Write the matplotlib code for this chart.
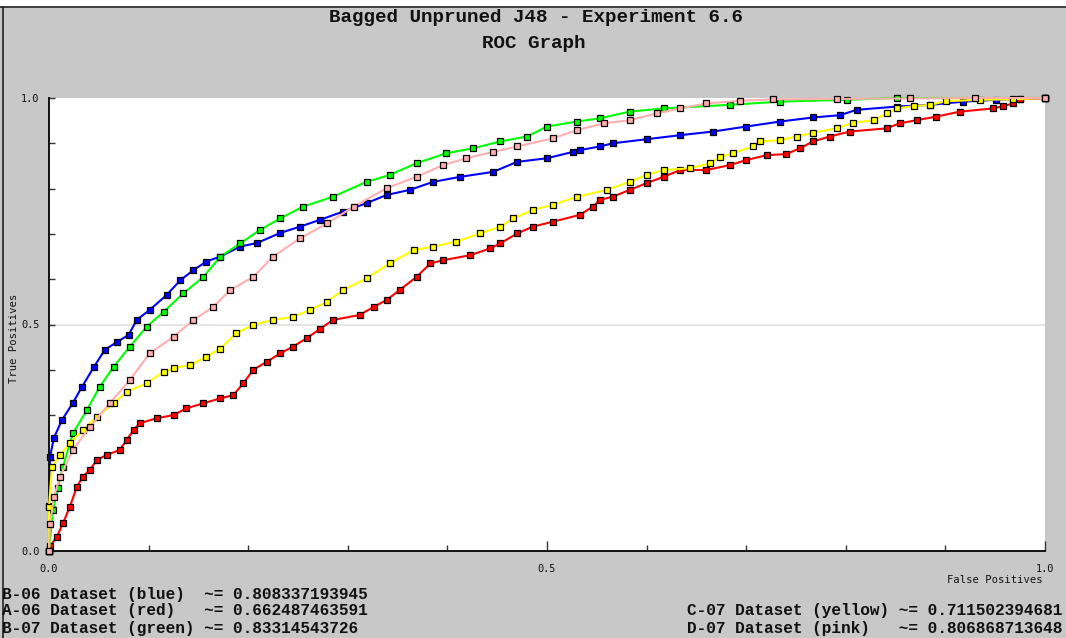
import numpy as np
import matplotlib
matplotlib.use("Agg")
import matplotlib.pyplot as plt
from matplotlib.lines import Line2D

# ---------------- data ----------------
title_lines = ["Bagged Unpruned J48 - Experiment 6.6", "ROC Graph"]

blue_fpr = [0.0, 0.0, 0.001, 0.005, 0.013, 0.024, 0.033, 0.045, 0.056, 0.068, 0.080, 0.088,
            0.101, 0.118, 0.132, 0.145, 0.158, 0.172, 0.192, 0.209, 0.232, 0.252, 0.272,
            0.295, 0.319, 0.339, 0.362, 0.386, 0.413, 0.446, 0.470, 0.500, 0.526, 0.533,
            0.553, 0.566, 0.600, 0.634, 0.667, 0.700, 0.734, 0.767, 0.794, 0.811, 0.851,
            0.885, 0.918, 0.951, 0.975, 1.0]
blue_tpr = [0.0, 0.10, 0.208, 0.25, 0.289, 0.327, 0.362, 0.406, 0.444, 0.461, 0.477, 0.510,
            0.532, 0.565, 0.598, 0.620, 0.639, 0.650, 0.672, 0.680, 0.702, 0.716, 0.731,
            0.749, 0.768, 0.786, 0.797, 0.815, 0.826, 0.837, 0.859, 0.867, 0.881, 0.885,
            0.893, 0.900, 0.909, 0.918, 0.926, 0.937, 0.948, 0.957, 0.962, 0.974, 0.981,
            0.985, 0.992, 0.996, 0.998, 1.0]

red_fpr = [0.0, 0.001, 0.008, 0.014, 0.021, 0.028, 0.034, 0.041, 0.048, 0.058, 0.071, 0.078,
           0.085, 0.091, 0.108, 0.125, 0.138, 0.155, 0.172, 0.185, 0.195, 0.205, 0.219,
           0.232, 0.245, 0.259, 0.272, 0.285, 0.312, 0.326, 0.339, 0.352, 0.369, 0.383,
           0.396, 0.423, 0.443, 0.453, 0.470, 0.486, 0.506, 0.533, 0.546, 0.553, 0.566,
           0.583, 0.600, 0.617, 0.634, 0.660, 0.684, 0.700, 0.721, 0.740, 0.754, 0.767,
           0.784, 0.804, 0.841, 0.854, 0.871, 0.891, 0.915, 0.948, 0.958, 0.968, 0.975, 1.0]
red_tpr = [0.0, 0.010, 0.032, 0.061, 0.098, 0.142, 0.164, 0.179, 0.201, 0.212, 0.223, 0.245,
           0.267, 0.282, 0.293, 0.300, 0.315, 0.326, 0.337, 0.344, 0.370, 0.400, 0.418,
           0.436, 0.451, 0.470, 0.490, 0.510, 0.521, 0.539, 0.554, 0.576, 0.605, 0.635,
           0.642, 0.653, 0.668, 0.679, 0.701, 0.716, 0.727, 0.742, 0.760, 0.775, 0.782,
           0.797, 0.812, 0.826, 0.841, 0.841, 0.852, 0.863, 0.874, 0.876, 0.889, 0.904,
           0.915, 0.926, 0.933, 0.944, 0.951, 0.959, 0.970, 0.977, 0.982, 0.988, 0.997, 1.0]

green_fpr = [0.0, 0.004, 0.009, 0.014, 0.024, 0.038, 0.051, 0.065, 0.081, 0.098, 0.115,
             0.135, 0.155, 0.172, 0.192, 0.212, 0.232, 0.255, 0.285, 0.319, 0.342, 0.369,
             0.399, 0.426, 0.453, 0.480, 0.500, 0.530, 0.553, 0.583, 0.617, 0.684, 0.734,
             0.801, 0.851, 1.0]
green_tpr = [0.0, 0.090, 0.140, 0.186, 0.260, 0.311, 0.363, 0.407, 0.451, 0.495, 0.528,
             0.569, 0.605, 0.650, 0.679, 0.709, 0.734, 0.760, 0.782, 0.815, 0.830, 0.856,
             0.878, 0.889, 0.904, 0.915, 0.937, 0.948, 0.955, 0.970, 0.977, 0.985, 0.992,
             0.996, 1.0, 1.0]

yellow_fpr = [0.0, 0.0, 0.003, 0.011, 0.021, 0.034, 0.048, 0.065, 0.078, 0.098, 0.115, 0.125,
              0.142, 0.158, 0.172, 0.188, 0.205, 0.225, 0.245, 0.262, 0.279, 0.295, 0.319,
              0.342, 0.366, 0.386, 0.409, 0.433, 0.453, 0.466, 0.486, 0.506, 0.530, 0.560,
              0.583, 0.600, 0.617, 0.644, 0.664, 0.674, 0.687, 0.707, 0.714, 0.734, 0.751,
              0.767, 0.791, 0.807, 0.828, 0.841, 0.851, 0.868, 0.885, 0.901, 0.935, 0.968, 1.0]
yellow_tpr = [0.0, 0.098, 0.186, 0.212, 0.238, 0.267, 0.296, 0.326, 0.352, 0.370, 0.396, 0.403,
              0.411, 0.429, 0.447, 0.481, 0.499, 0.510, 0.517, 0.532, 0.550, 0.576, 0.602,
              0.635, 0.664, 0.672, 0.683, 0.701, 0.716, 0.734, 0.753, 0.764, 0.782, 0.797,
              0.815, 0.830, 0.841, 0.845, 0.856, 0.870, 0.878, 0.893, 0.904, 0.907, 0.915,
              0.923, 0.933, 0.945, 0.951, 0.966, 0.977, 0.982, 0.985, 0.993, 0.996, 0.997, 1.0]

pink_fpr = [0.0, 0.001, 0.005, 0.011, 0.024, 0.041, 0.061, 0.081, 0.101, 0.125, 0.145, 0.165,
            0.182, 0.205, 0.225, 0.252, 0.279, 0.306, 0.339, 0.369, 0.396, 0.419, 0.446,
            0.470, 0.506, 0.530, 0.557, 0.583, 0.610, 0.634, 0.660, 0.694, 0.727, 0.791,
            0.864, 0.930, 1.0]
pink_tpr = [0.0, 0.060, 0.120, 0.164, 0.223, 0.274, 0.326, 0.377, 0.436, 0.473, 0.510, 0.539,
            0.576, 0.605, 0.650, 0.690, 0.723, 0.760, 0.801, 0.826, 0.852, 0.867, 0.881,
            0.893, 0.911, 0.929, 0.944, 0.951, 0.966, 0.977, 0.988, 0.994, 0.997, 0.998,
            0.999, 1.0, 1.0]

series_names = ["B-06 Dataset (blue)", "A-06 Dataset (red)", "B-07 Dataset (green)",
                "C-07 Dataset (yellow)", "D-07 Dataset (pink)"]
series_auc = ["0.808337193945", "0.662487463591", "0.83314543726",
              "0.711502394681", "0.806868713648"]
series_colors = ["#0000ff", "#ff0000", "#00ff00", "#ffff00", "#ffafaf"]

x_tick_labels = ["0.0", "0.5", "1.0"]
y_tick_labels = ["0.0", "0.5", "1.0"]

# ---------------- figure ----------------
W, H = 1066, 638
BG = "#c8c8c8"
fig = plt.figure(figsize=(W / 100, H / 100), dpi=100, facecolor=BG)

L, R, T, B = 49, 1045, 98, 551
ax = fig.add_axes([L / W, (H - B) / H, (R - L) / W, (B - T) / H], facecolor="white")
ax.set_xlim(0, 1)
ax.set_ylim(0, 1)

for s in ["top", "right"]:
    ax.spines[s].set_visible(False)
for s in ["left", "bottom"]:
    ax.spines[s].set_color("#111111")
    ax.spines[s].set_linewidth(1.4)

ax.axhline(0.5, color="#e6e6e6", lw=1.6, zorder=0.5)

xs = [blue_fpr, red_fpr, green_fpr, yellow_fpr, pink_fpr]
ys = [blue_tpr, red_tpr, green_tpr, yellow_tpr, pink_tpr]
for i, (x, y) in enumerate(zip(xs, ys)):
    ax.plot(x, y, color=series_colors[i], lw=1.5, marker="s", markersize=4.3,
            markerfacecolor=series_colors[i], markeredgecolor="black",
            markeredgewidth=0.9, clip_on=False, zorder=2 + i)

mono = "DejaVu Sans Mono"
ax.set_xticks([0.0, 0.5, 1.0])
ax.set_xticklabels(x_tick_labels, fontsize=7.4, family=mono, color="#111111")
ax.set_xticks(np.arange(0, 1.001, 0.1), minor=True)
ax.set_yticks([0.0, 0.5, 1.0])
ax.set_yticklabels(y_tick_labels, fontsize=7.4, family=mono, color="#111111")
ax.set_yticks(np.arange(0, 1.001, 0.1), minor=True)
ax.tick_params(axis="x", which="major", direction="in", length=7, width=1, pad=9, color="#333333")
ax.tick_params(axis="x", which="minor", direction="in", length=4, width=1, color="#333333")
ax.tick_params(axis="y", which="both", direction="in", length=4, width=1, pad=7, color="#333333")

# axis titles
fig.text(1043 / W, 1 - 580 / H, "False Positives", ha="right", va="center",
         fontsize=7.6, family=mono, color="#111111")
fig.text(14 / W, 1 - 338 / H, "True Positives", ha="center", va="center",
         rotation=90, fontsize=7.6, family=mono, color="#111111")

# title
tfont = dict(family="Liberation Mono", fontweight="bold", fontsize=13.9, color="#111111")
fig.text(536 / W, 1 - 18 / H, title_lines[0], ha="center", va="center", **tfont)
fig.text(534 / W, 1 - 44 / H, title_lines[1], ha="center", va="center", **tfont)

# AUC legend text
lfont = dict(family="Liberation Mono", fontweight="bold", fontsize=11.6, color="#111111")
left_rows = [0, 1, 2]
left_y = [594, 611, 628]
pad_left = max(len(series_names[i]) for i in left_rows)
for yy, i in zip(left_y, left_rows):
    fig.text(2 / W, 1 - yy / H, series_names[i].ljust(pad_left) + " ~= " + series_auc[i],
             ha="left", va="center", **lfont)
right_rows = [3, 4]
right_y = [611, 628]
pad_right = max(len(series_names[i]) for i in right_rows)
for yy, i in zip(right_y, right_rows):
    fig.text(687 / W, 1 - yy / H, series_names[i].ljust(pad_right) + " ~= " + series_auc[i],
             ha="left", va="center", **lfont)

# window frame lines
fig.add_artist(Line2D([0, 1], [1 - 7 / H, 1 - 7 / H], transform=fig.transFigure,
                      color="#222222", lw=1.2))
fig.add_artist(Line2D([3 / W, 3 / W], [0, 1 - 7 / H], transform=fig.transFigure,
                      color="#222222", lw=1.2))
fig.patches.append(matplotlib.patches.Rectangle((0, 1 - 7 / H), 1, 7 / H,
                                                transform=fig.transFigure,
                                                facecolor="white", edgecolor="none"))

fig.savefig("out.png", dpi=100, facecolor=BG)
